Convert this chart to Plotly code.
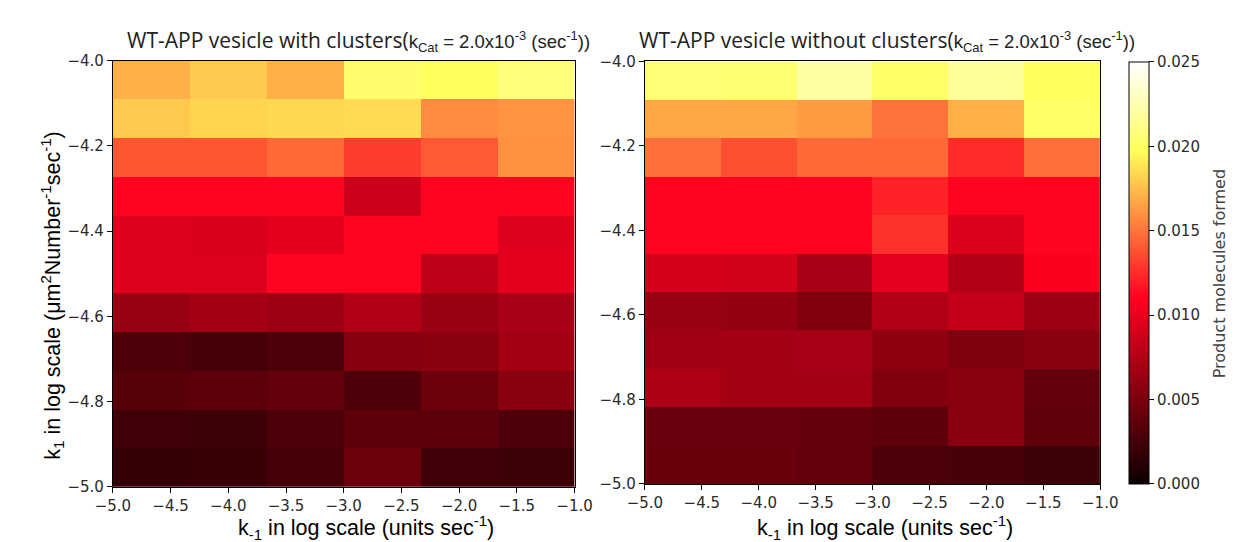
import plotly.graph_objects as go

# Grid (cell centres) in log scale
k_minus1 = [-4.667, -4.0, -3.333, -2.667, -2.0, -1.333]
k1 = [-4.955, -4.864, -4.773, -4.682, -4.591, -4.5, -4.409, -4.318, -4.227, -4.136, -4.045]

# Product molecules formed, rows listed from top (k1=-4.045) to bottom (k1=-4.955)
with_clusters_top_down = [
    [0.0170, 0.0179, 0.0170, 0.0204, 0.0199, 0.0209],
    [0.0179, 0.0183, 0.0184, 0.0185, 0.0158, 0.0161],
    [0.0139, 0.0139, 0.0146, 0.0131, 0.0141, 0.0160],
    [0.0111, 0.0111, 0.0111, 0.0087, 0.0111, 0.0111],
    [0.0095, 0.0093, 0.0098, 0.0111, 0.0111, 0.0095],
    [0.0095, 0.0095, 0.0111, 0.0111, 0.0080, 0.0098],
    [0.0064, 0.0069, 0.0066, 0.0076, 0.0064, 0.0071],
    [0.0030, 0.0026, 0.0030, 0.0055, 0.0057, 0.0069],
    [0.0034, 0.0037, 0.0039, 0.0030, 0.0044, 0.0057],
    [0.0023, 0.0022, 0.0030, 0.0037, 0.0037, 0.0030],
    [0.0018, 0.0020, 0.0026, 0.0044, 0.0023, 0.0022],
]
without_clusters_top_down = [
    [0.0206, 0.0205, 0.0221, 0.0201, 0.0218, 0.0199],
    [0.0167, 0.0167, 0.0163, 0.0149, 0.0170, 0.0201],
    [0.0148, 0.0137, 0.0146, 0.0146, 0.0125, 0.0148],
    [0.0111, 0.0111, 0.0111, 0.0122, 0.0111, 0.0111],
    [0.0111, 0.0111, 0.0111, 0.0127, 0.0094, 0.0111],
    [0.0092, 0.0090, 0.0071, 0.0099, 0.0076, 0.0108],
    [0.0064, 0.0062, 0.0053, 0.0075, 0.0083, 0.0066],
    [0.0067, 0.0069, 0.0070, 0.0060, 0.0052, 0.0057],
    [0.0073, 0.0069, 0.0069, 0.0053, 0.0057, 0.0039],
    [0.0041, 0.0041, 0.0040, 0.0037, 0.0057, 0.0038],
    [0.0043, 0.0043, 0.0039, 0.0030, 0.0028, 0.0022],
]

x_ticks = [-5.0, -4.5, -4.0, -3.5, -3.0, -2.5, -2.0, -1.5, -1.0]
y_ticks = [-5.0, -4.8, -4.6, -4.4, -4.2, -4.0]
cb_ticks = [0.000, 0.005, 0.010, 0.015, 0.020, 0.025]

W, H = 1235, 542
def px(x):
    return x / W
def py(y):
    return 1 - y / H

hot_scale = [
    [0.0, "rgb(12,0,0)"],
    [0.44, "rgb(255,0,32)"],
    [0.79, "rgb(255,255,90)"],
    [1.0, "rgb(255,255,255)"],
]

fig = go.Figure()
fig.add_trace(go.Heatmap(x=k_minus1, y=k1, z=with_clusters_top_down[::-1],
                         coloraxis="coloraxis", xaxis="x", yaxis="y"))
fig.add_trace(go.Heatmap(x=k_minus1, y=k1, z=without_clusters_top_down[::-1],
                         coloraxis="coloraxis", xaxis="x2", yaxis="y2"))

tickfont = dict(family="DejaVu Sans", size=15, color="#2a2a2a")
axis_common = dict(showline=True, mirror=True, linecolor="black", linewidth=1,
                   ticks="outside", ticklen=5, tickcolor="black", tickwidth=1,
                   showgrid=False, zeroline=False, tickfont=tickfont,
                   tickformat=".1f")

fig.update_layout(
    width=W, height=H,
    margin=dict(l=0, r=0, t=0, b=0),
    paper_bgcolor="white", plot_bgcolor="white",
    xaxis=dict(domain=[px(89.5), px(565)], range=[-5, -1], tickvals=x_ticks,
               anchor="y", **axis_common),
    yaxis=dict(domain=[py(486), py(45)], range=[-5, -4], tickvals=y_ticks,
               anchor="x", **axis_common),
    xaxis2=dict(domain=[px(637.5), px(1106.5)], range=[-5, -1], tickvals=x_ticks,
                anchor="y2", **axis_common),
    yaxis2=dict(domain=[py(483), py(46)], range=[-5, -4], tickvals=y_ticks,
                anchor="x2", **axis_common),
    coloraxis=dict(
        cmin=0, cmax=0.025, colorscale=hot_scale,
        colorbar=dict(
            x=px(1136.5), xanchor="left", xpad=0, ypad=0,
            y=py(483), yanchor="bottom", len=(483 - 46) / H, lenmode="fraction",
            thickness=20, thicknessmode="pixels",
            outlinewidth=1, outlinecolor="black",
            ticks="outside", ticklen=5, tickcolor="black",
            tickvals=cb_ticks, tickformat=".3f",
            tickfont=dict(family="DejaVu Sans", size=15, color="#2a2a2a"),
        ),
    ),
    showlegend=False,
)

title_font = dict(family="Open Sans", size=21, color="#222222")
kpart = "<span style='font-family:Liberation Sans;font-size:18.5px'>k<sub>Cat</sub> = 2.0x10<sup>-3</sup> (sec<sup>-1</sup>))</span>"
label_font = dict(family="Liberation Sans", size=21.5, color="black")
annotations = [
    dict(text="WT-APP vesicle with clusters(" + kpart,
         x=px(342.5), y=py(24), xanchor="center", yanchor="middle", font=title_font),
    dict(text="WT-APP vesicle without clusters(" + kpart,
         x=px(887), y=py(24), xanchor="center", yanchor="middle", font=title_font),
    dict(text="k<sub>1</sub> in log scale (μm<sup>2</sup>Number<sup>-1</sup>sec<sup>-1</sup>)",
         x=px(27), y=py(288), xanchor="center", yanchor="middle", textangle=-90,
         font=label_font),
    dict(text="k<sub>-1</sub> in log scale (units sec<sup>-1</sup>)",
         x=px(350), y=py(528), xanchor="center", yanchor="middle",
         font=label_font),
    dict(text="k<sub>-1</sub> in log scale (units sec<sup>-1</sup>)",
         x=px(885), y=py(528), xanchor="center", yanchor="middle",
         font=label_font),
    dict(text="Product molecules formed",
         x=px(1229), y=py(266), xanchor="center", yanchor="middle", textangle=-90,
         font=dict(family="DejaVu Sans", size=16, color="#444444")),
]
for a in annotations:
    a.update(xref="paper", yref="paper", showarrow=False)
fig.update_layout(annotations=annotations)

fig.write_html("out.html")
